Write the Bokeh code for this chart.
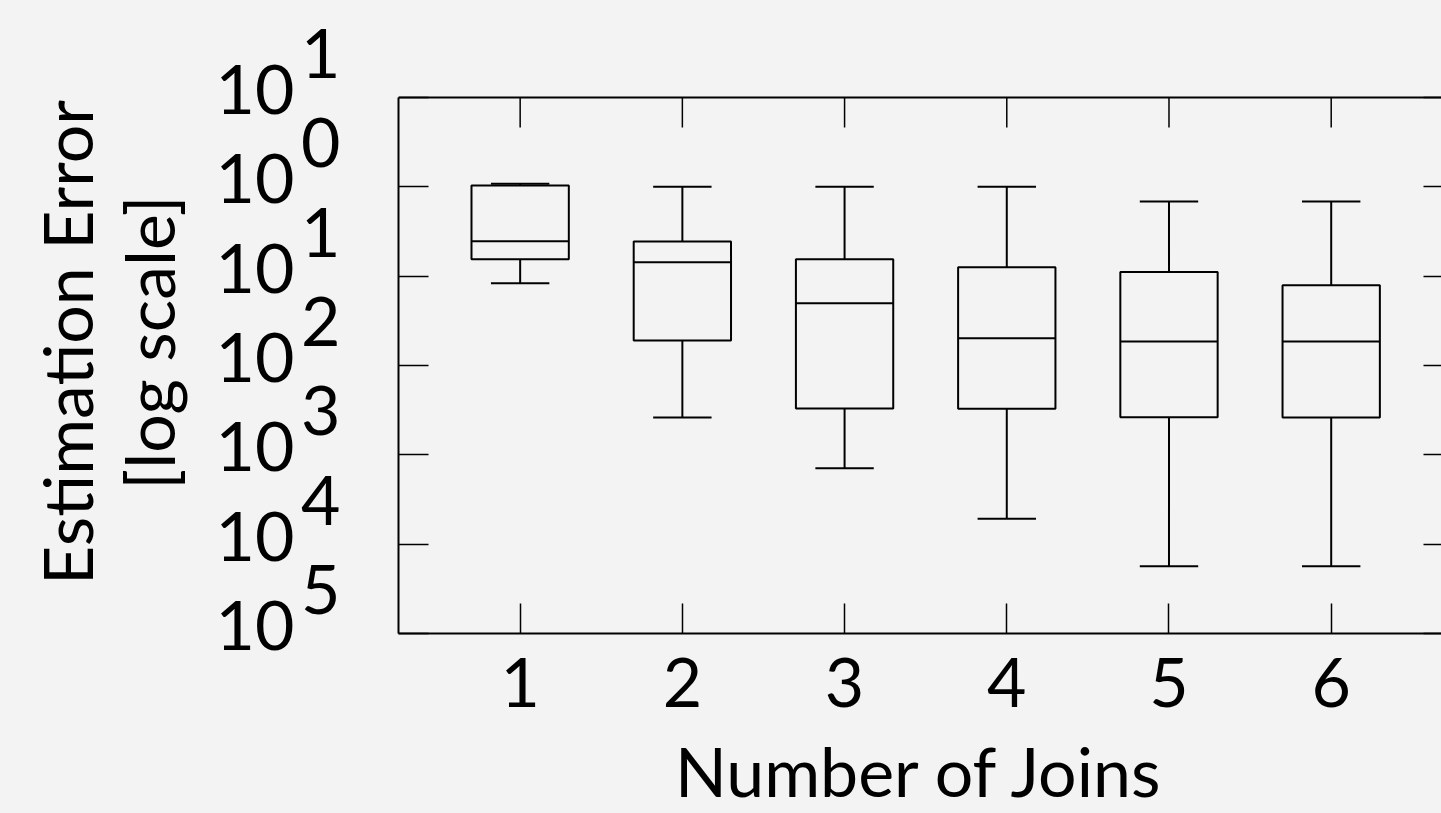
import numpy as np
from bokeh.plotting import figure
from bokeh.models import (Range1d, FixedTicker, LinearAxis, LogAxis, Span,
                          ColumnDataSource, CustomJSTickFormatter)
from bokeh.embed import file_html
from bokeh.resources import INLINE

# ---------------- data ----------------
joins = [1, 2, 3, 4, 5, 6]
upper_whisker = [1.08, 1.0, 1.0, 1.0, 0.686, 0.686]
q3 = [1.035, 0.244, 0.155, 0.126, 0.111, 0.0793]
median = [0.246, 0.143, 0.0498, 0.0202, 0.0186, 0.0186]
q1 = [0.155, 0.0191, 0.00330, 0.00327, 0.00264, 0.00262]
lower_whisker = [0.0834, 0.00262, 0.000708, 0.000192, 0.0000566, 0.0000566]

x_tick_labels = ["1", "2", "3", "4", "5", "6"]
y_tick_values = [1e1, 1e0, 1e-1, 1e-2, 1e-3, 1e-4, 1e-5]
y_tick_base = ["10", "10", "10", "10", "10", "10", "10"]
y_tick_exponent = ["1", "0", "1", "2", "3", "4", "5"]

x_title = "Number of Joins"
y_title_line1 = "Estimation Error"
y_title_line2 = "[log scale]"

# ---------------- style / layout ----------------
BG = "#f3f3f3"
INK = "black"
FONT = "Lato"
FS = "68px"
BOX_W = 0.6
CAP_W = 0.36
W, H = 1441, 813
BOX_LEFT, BOX_TOP, BOX_BOTTOM = 398, 97, 633      # visible plot box
DECADE_PX = (BOX_BOTTOM - BOX_TOP) / 6.0
TOP_PAD_PX = 46          # room above the box for the raised top exponent
BASE_RAISE_PX = 8        # "10" sits slightly above its tick
EXP_RAISE_PX = 44        # exponent is raised well above the base
TICK_LEN = 30

Y_MIN, Y_MAX = min(y_tick_values), max(y_tick_values)
y_top = Y_MAX * 10 ** (TOP_PAD_PX / DECADE_PX)

p = figure(width=W, height=H, output_backend="svg", toolbar_location=None,
           y_axis_type="log",
           x_range=Range1d(0.25, 6.68), y_range=Range1d(Y_MIN, y_top),
           min_border_left=BOX_LEFT, min_border_top=BOX_TOP - TOP_PAD_PX,
           min_border_right=0, min_border_bottom=H - BOX_BOTTOM,
           background_fill_color=BG, border_fill_color=BG,
           outline_line_color=None)
p.grid.visible = False

blank = CustomJSTickFormatter(code="return '';")


def label_formatter(tick_list, label_list):
    return CustomJSTickFormatter(args=dict(tv=list(tick_list), lab=list(label_list)), code="""
        let best = 0;
        for (let i = 0; i < tv.length; i++) {
            if (Math.abs(Math.log10(tv[i] / tick)) < Math.abs(Math.log10(tv[best] / tick))) best = i;
        }
        return lab[best];
    """)


def text_axis(cls, **kw):
    base = dict(major_tick_line_color=None, minor_tick_line_color=None,
                axis_line_color=None, major_tick_in=0, major_tick_out=0,
                major_label_text_font=FONT, major_label_text_font_size=FS,
                major_label_text_color=INK,
                axis_label_text_font=FONT, axis_label_text_font_size=FS,
                axis_label_text_font_style="normal", axis_label_text_color=INK)
    base.update(kw)
    return cls(**base)


# ---- bottom axis: box edge, ticks, tick labels
xa = p.xaxis[0]
xa.ticker = FixedTicker(ticks=joins)
xa.major_label_overrides = {j: t for j, t in zip(joins, x_tick_labels)}
xa.major_label_text_font = FONT
xa.major_label_text_font_size = FS
xa.major_label_text_color = INK
xa.major_label_standoff = 24
xa.major_tick_in = TICK_LEN
xa.major_tick_out = 0
xa.major_tick_line_width = 1.5
xa.major_tick_line_color = INK
xa.minor_tick_line_color = None
xa.axis_line_width = 2
xa.axis_line_color = INK

# ---- bottom title axis
x_title_axis = text_axis(LinearAxis, ticker=FixedTicker(ticks=[]), formatter=blank,
                         major_label_standoff=0, axis_label=x_title,
                         axis_label_standoff=20)
p.add_layout(x_title_axis, "below")

# ---- left axis: box edge + ticks
ya = p.yaxis[0]
ya.ticker = FixedTicker(ticks=y_tick_values)
ya.formatter = blank
ya.bounds = (Y_MIN, Y_MAX)
ya.major_label_standoff = 0
ya.major_tick_in = TICK_LEN
ya.major_tick_out = 0
ya.major_tick_line_width = 1.5
ya.major_tick_line_color = INK
ya.minor_tick_line_color = None
ya.axis_line_width = 2
ya.axis_line_color = INK

# ---- exponents (closest to the box)
exp_ticks = [v * 10 ** (EXP_RAISE_PX / DECADE_PX) for v in y_tick_values]
exp_axis = text_axis(LogAxis, ticker=FixedTicker(ticks=exp_ticks),
                     formatter=label_formatter(exp_ticks, y_tick_exponent),
                     major_label_standoff=58)
p.add_layout(exp_axis, "left")

# ---- bases "10"
base_ticks = [v * 10 ** (BASE_RAISE_PX / DECADE_PX) for v in y_tick_values]
base_axis = text_axis(LogAxis, ticker=FixedTicker(ticks=base_ticks),
                      formatter=label_formatter(base_ticks, y_tick_base),
                      major_label_standoff=4)
p.add_layout(base_axis, "left")

# ---- y title (two lines)
y_title2_axis = text_axis(LogAxis, ticker=FixedTicker(ticks=[]), formatter=blank,
                          major_label_standoff=0, axis_label=y_title_line2,
                          axis_label_standoff=24)
p.add_layout(y_title2_axis, "left")
y_title1_axis = text_axis(LogAxis, ticker=FixedTicker(ticks=[]), formatter=blank,
                          major_label_standoff=0, axis_label=y_title_line1,
                          axis_label_standoff=-2)
p.add_layout(y_title1_axis, "left")

# ---- top edge of the box with mirror ticks
p.add_layout(Span(location=Y_MAX, dimension="width", line_color=INK, line_width=2))
top_tick_end = Y_MAX * 10 ** (-TICK_LEN / DECADE_PX)
p.segment(x0=joins, x1=joins, y0=[Y_MAX] * len(joins), y1=[top_tick_end] * len(joins),
          line_color=INK, line_width=1.5)

# ---- right side (mirror ticks; the box edge itself lies beyond the window)
right = LogAxis(ticker=FixedTicker(ticks=y_tick_values), formatter=blank,
                major_label_standoff=0, bounds=(Y_MIN, Y_MAX),
                major_tick_in=18, major_tick_out=0, major_tick_line_width=1.5,
                major_tick_line_color=INK, minor_tick_line_color=None,
                axis_line_color=None)
p.add_layout(right, "right")

# ---------------- box plots ----------------
xs = np.array(joins, dtype=float)
src = ColumnDataSource(dict(
    x=xs, hi=upper_whisker, q3=q3, med=median, q1=q1, lo=lower_whisker,
    bl=xs - BOX_W / 2, br=xs + BOX_W / 2,
    cl=xs - CAP_W / 2, cr=xs + CAP_W / 2,
))
line_kw = dict(line_color=INK, line_width=2)
p.segment(x0="x", x1="x", y0="q3", y1="hi", source=src, **line_kw)
p.segment(x0="x", x1="x", y0="lo", y1="q1", source=src, **line_kw)
p.segment(x0="cl", x1="cr", y0="hi", y1="hi", source=src, **line_kw)
p.segment(x0="cl", x1="cr", y0="lo", y1="lo", source=src, **line_kw)
p.vbar(x="x", width=BOX_W, bottom="q1", top="q3", source=src,
       fill_color=None, **line_kw)
p.segment(x0="bl", x1="br", y0="med", y1="med", source=src, **line_kw)

html = file_html(p, INLINE)
html = html.replace("</head>",
                    "<style>html, body {background-color: %s;}</style></head>" % BG, 1)
open("out.html", "w").write(html)
